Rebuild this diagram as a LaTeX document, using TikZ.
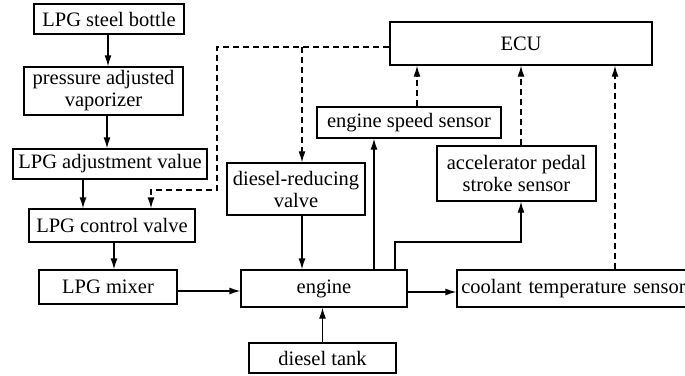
\documentclass[tikz,border=0pt]{standalone}
\usepackage{fontspec}
\setmainfont{Liberation Serif}
\usetikzlibrary{arrows.meta}
\begin{document}
\begin{tikzpicture}[x=1pt,y=-1pt,
  box/.style={draw, line width=1.3pt, inner sep=0pt, align=center, font=\fontsize{20.5}{22}\selectfont},
  arr/.style={line width=1.3pt, -{Latex[length=11pt,width=7pt]}},
  darr/.style={arr, dash pattern=on 6pt off 4pt},
  dline/.style={line width=1.3pt, dash pattern=on 6pt off 4pt}]
\useasboundingbox (0,0) rectangle (685,375);
\node[box, minimum width=150pt, minimum height=30pt] (bottle) at (109,19) {LPG steel bottle};
\node[box, minimum width=159pt, minimum height=48pt] (vapor) at (103.5,91) {pressure adjusted\\vaporizer};
\node[box, minimum width=194pt, minimum height=30pt] (adjval) at (110,164) {LPG adjustment value};
\node[box, minimum width=166pt, minimum height=33pt] (ctrl) at (112,225.5) {LPG control valve};
\node[box, minimum width=138pt, minimum height=34pt] (mixer) at (108,287) {LPG mixer};
\node[box, minimum width=166pt, minimum height=37pt] (engine) at (324,288.5) {engine};
\node[box, minimum width=138pt, minimum height=52pt] (dvalve) at (296,189) {diesel-reducing\\valve};
\node[box, minimum width=147pt, minimum height=30pt] (tank) at (322.5,358) {diesel tank};
\node[box, minimum width=184pt, minimum height=31pt] (speed) at (409,122.5) {engine speed sensor};
\node[box, minimum width=159pt, minimum height=55pt] (accel) at (516.5,173.5) {accelerator pedal\\stroke sensor};
\node[box, minimum width=262pt, minimum height=43pt] (ECU) at (521,43.5) {ECU};
\node[box, minimum width=233pt, minimum height=37pt, text width=233pt] (coolant) at (573.5,288.5) {coolant temperature sensor};
\coordinate (c1) at (217,47);
\coordinate (c2) at (217,190);
\coordinate (bend) at (395,242);
% solid connectors
\draw[arr] ([xshift=-1pt]bottle.south) -- ([xshift=-1pt]bottle.south |- vapor.north);
\draw[arr] ([xshift=3.5pt]vapor.south) -- ([xshift=3.5pt]vapor.south |- adjval.north);
\draw[arr] ([xshift=-27pt]adjval.south) -- ([xshift=-27pt]adjval.south |- ctrl.north);
\draw[arr] ([xshift=2pt]ctrl.south) -- ([xshift=2pt]ctrl.south |- mixer.north);
\draw[arr] ([yshift=-4pt]mixer.east) -- ([yshift=-4pt]mixer.east -| engine.west);
\draw[arr] ([xshift=6pt]dvalve.south) -- ([xshift=6pt]dvalve.south |- engine.north);
\draw[arr] (tank.north) -- (tank.north |- engine.south);
\draw[arr] ([xshift=50pt]engine.north) -- ([xshift=50pt]engine.north |- speed.south);
\draw[arr] (engine.north -| bend) -- (bend) -| ([xshift=4.5pt]accel.south);
\draw[arr] ([yshift=-3.5pt]engine.east) -- ([yshift=-3.5pt]engine.east -| coolant.west);
% dashed connectors
\draw[darr] ([xshift=8pt]speed.north) -- ([xshift=8pt]speed.north |- ECU.south);
\draw[darr] ([xshift=4.5pt]accel.north) -- ([xshift=4.5pt]accel.north |- ECU.south);
\draw[darr] ([xshift=41.5pt]coolant.north) -- ([xshift=41.5pt]coolant.north |- ECU.south);
\draw[darr] (ECU.west |- c1) -- (c1) -- (c2) -| ([xshift=39pt]ctrl.north);
\draw[darr] ([xshift=6pt]dvalve.north |- c1) -- ([xshift=6pt]dvalve.north);
\end{tikzpicture}
\end{document}
